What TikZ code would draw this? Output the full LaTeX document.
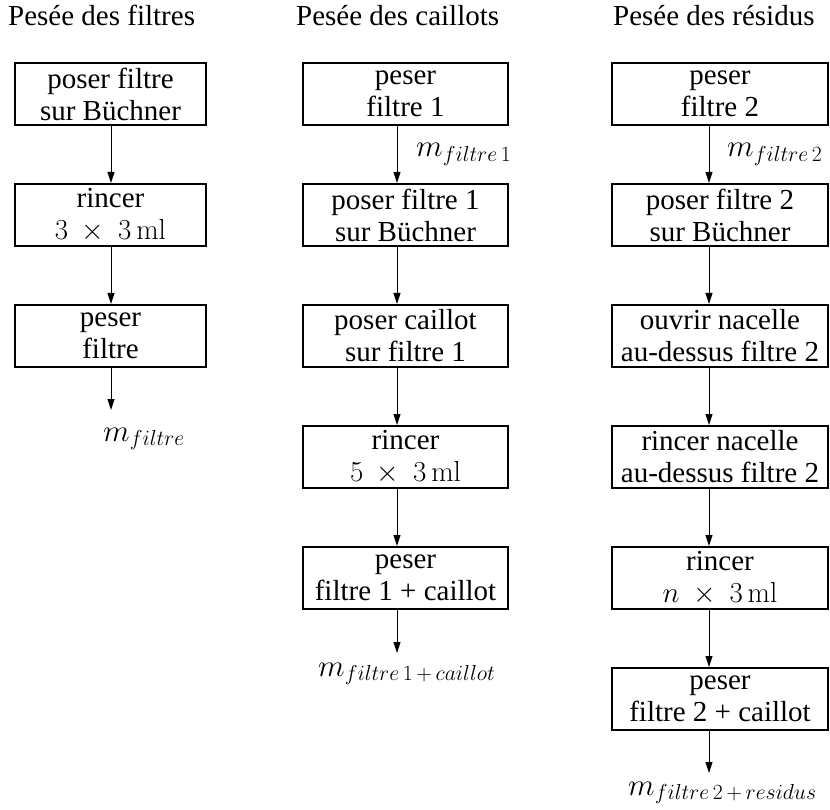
\documentclass[tikz,border=0pt]{standalone}
\usepackage{fix-cm}
\usepackage[no-math]{fontspec}
\setmainfont{Liberation Serif}
\newfontfamily\timesfam{Liberation Serif}
\usetikzlibrary{arrows.meta}
\newcommand\twolines[2]{\vbox{\halign{\hfil##\hfil\cr #1\cr #2\cr}}}
\begin{document}
\begin{tikzpicture}[x=1pt,y=-1pt,
  every node/.style={font=\timesfam\fontsize{29}{32}\selectfont, inner sep=0pt},
  stepbox/.style={draw, line width=2pt, rectangle, minimum height=62pt},
  colA/.style={stepbox, minimum width=191pt},
  colB/.style={stepbox, minimum width=205pt},
  colC/.style={stepbox, minimum width=216pt},
  flow/.style={line width=1pt, -{Triangle[length=11pt,width=7pt]}},
  title/.style={anchor=base west},
  lbl/.style={anchor=base west, font=\fontsize{31}{34}\selectfont}]
\useasboundingbox (0,0) rectangle (830,810);
% titles
\node[title] (t1) at (8,26) {Pesée des filtres};
\node[title] (t2) at (296,26) {Pesée des caillots};
\node[title] (t3) at (613,26) {Pesée des résidus};
% arrow axes
\coordinate (x1) at (111,0);
\coordinate (x2) at (397,0);
\coordinate (x3) at (709,0);
% column 1
\node[colA] (a1) at (110.5,94) {\twolines{poser filtre}{sur Büchner}};
\node[colA] (a2) at (110.5,215) {\twolines{rincer}{$3\ \times\ 3\,\mathrm{ml}$}};
\node[colA] (a3) at (110.5,336) {\twolines{peser}{filtre}};
% column 2
\node[colB] (b1) at (405.5,94) {\twolines{peser}{filtre 1}};
\node[colB] (b2) at (405.5,215) {\twolines{poser filtre 1}{sur Büchner}};
\node[colB] (b3) at (405.5,336) {\twolines{poser caillot}{sur filtre 1}};
\node[colB] (b4) at (405.5,457) {\twolines{rincer}{$5\ \times\ 3\,\mathrm{ml}$}};
\node[colB] (b5) at (405.5,578) {\twolines{peser}{filtre 1 + caillot}};
% column 3
\node[colC] (c1) at (720,94) {\twolines{peser}{filtre 2}};
\node[colC] (c2) at (720,215) {\twolines{poser filtre 2}{sur Büchner}};
\node[colC] (c3) at (720,336) {\twolines{ouvrir nacelle}{au-dessus filtre 2}};
\node[colC] (c4) at (720,457) {\twolines{rincer nacelle}{au-dessus filtre 2}};
\node[colC] (c5) at (720,578) {\twolines{rincer}{$n\ \times\ 3\,\mathrm{ml}$}};
\node[colC] (c6) at (720,699) {\twolines{peser}{filtre 2 + caillot}};
% end points
\coordinate (e1) at (111,410);
\coordinate (e2) at (397,653);
\coordinate (e3) at (709,773);
% connectors
\draw[flow] (a1.south -| x1) -- (a2.north -| x1);
\draw[flow] (a2.south -| x1) -- (a3.north -| x1);
\draw[flow] (a3.south -| x1) -- (e1);
\draw[flow] (b1.south -| x2) -- (b2.north -| x2);
\draw[flow] (b2.south -| x2) -- (b3.north -| x2);
\draw[flow] (b3.south -| x2) -- (b4.north -| x2);
\draw[flow] (b4.south -| x2) -- (b5.north -| x2);
\draw[flow] (b5.south -| x2) -- (e2);
\draw[flow] (c1.south -| x3) -- (c2.north -| x3);
\draw[flow] (c2.south -| x3) -- (c3.north -| x3);
\draw[flow] (c3.south -| x3) -- (c4.north -| x3);
\draw[flow] (c4.south -| x3) -- (c5.north -| x3);
\draw[flow] (c5.south -| x3) -- (c6.north -| x3);
\draw[flow] (c6.south -| x3) -- (e3);
% labels
\node[lbl] (l2) at (416,157) {$m_{filtre\,1}$};
\node[lbl] (l3) at (727,157) {$m_{filtre\,2}$};
\node[lbl] (m1) at (103,441) {$m_{filtre}$};
\node[lbl] (m2) at (318,676) {$m_{filtre\,1\,+\,caillot}$};
\node[lbl] (m3) at (628,795) {$m_{filtre\,2\,+\,residus}$};
\end{tikzpicture}
\end{document}
